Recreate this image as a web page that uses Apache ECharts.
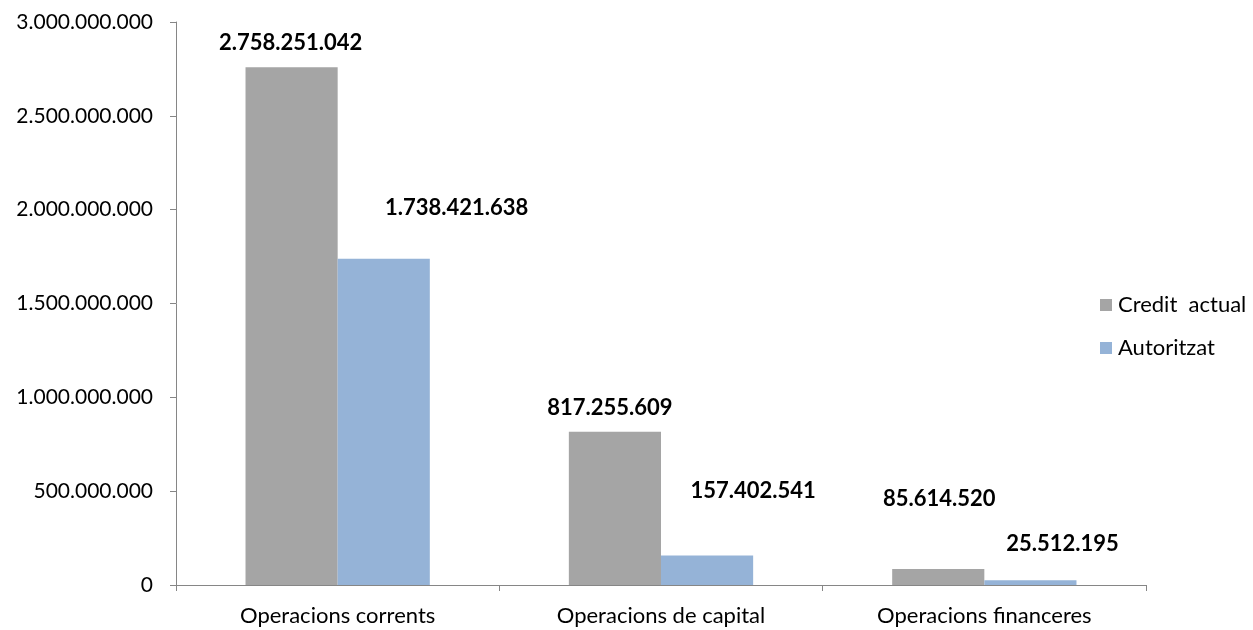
<!DOCTYPE html>
<html><head><meta charset="utf-8">
<script src="https://cdn.jsdelivr.net/npm/echarts@6/dist/echarts.min.js"></script>
<style>html,body{margin:0;padding:0;background:#fff}#c{width:1253px;height:630px}</style>
</head><body><div id="c"></div>
<script>
const categories = ['Operacions corrents', 'Operacions de capital', 'Operacions financeres'];
const seriesNames = ['Credit  actual', 'Autoritzat'];
const creditActual = [2758251042, 817255609, 85614520];
const autoritzat = [1738421638, 157402541, 25512195];
const creditOffsets = [[-1, -8], [-5, -8], [1, -54]];
const autoritzatOffsets = [[73, -35], [46, -49], [32, -20]];

function fmt(v) {
  return String(v).replace(/\B(?=(\d{3})+(?!\d))/g, '.');
}
function mk(vals, offs) {
  return vals.map((v, i) => ({ value: v, label: { offset: offs[i] } }));
}
const chart = echarts.init(document.getElementById('c'));
const font = 'Lato, "Open Sans", sans-serif';
chart.setOption({
  animation: false,
  textStyle: { fontFamily: font },
  grid: { left: 176, top: 22, right: 107, bottom: 45, containLabel: false },
  legend: {
    orient: 'vertical', left: 1100, top: 294, padding: 0,
    itemWidth: 12, itemHeight: 12, itemGap: 21,
    icon: 'rect',
    textStyle: { fontSize: 22, color: '#000', fontFamily: font, padding: [0, 0, 0, 1] },
    data: seriesNames
  },
  xAxis: {
    type: 'category', data: categories,
    axisLine: { lineStyle: { color: '#868686', width: 1 } },
    axisTick: { show: true, length: 6, lineStyle: { color: '#868686' } },
    axisLabel: { fontSize: 22, color: '#000', margin: 20, fontFamily: font }
  },
  yAxis: {
    type: 'value', min: 0, max: 3000000000, interval: 500000000,
    axisLine: { show: true, lineStyle: { color: '#868686', width: 1 } },
    axisTick: { show: true, length: 6, lineStyle: { color: '#868686' } },
    splitLine: { show: false },
    axisLabel: { fontSize: 21, color: '#000', margin: 23, fontFamily: font, formatter: v => fmt(v) }
  },
  series: [
    {
      name: seriesNames[0], type: 'bar', data: mk(creditActual, creditOffsets),
      itemStyle: { color: '#A5A5A5' }, barGap: '0%', barCategoryGap: '43%',
      label: { show: true, position: 'top', fontSize: 22, fontWeight: 'bold', color: '#000', fontFamily: font, formatter: p => fmt(p.value) }
    },
    {
      name: seriesNames[1], type: 'bar', data: mk(autoritzat, autoritzatOffsets),
      itemStyle: { color: '#95B3D7' }, barGap: '0%', barCategoryGap: '43%',
      label: { show: true, position: 'top', fontSize: 22, fontWeight: 'bold', color: '#000', fontFamily: font, formatter: p => fmt(p.value) }
    }
  ]
});
</script></body></html>
